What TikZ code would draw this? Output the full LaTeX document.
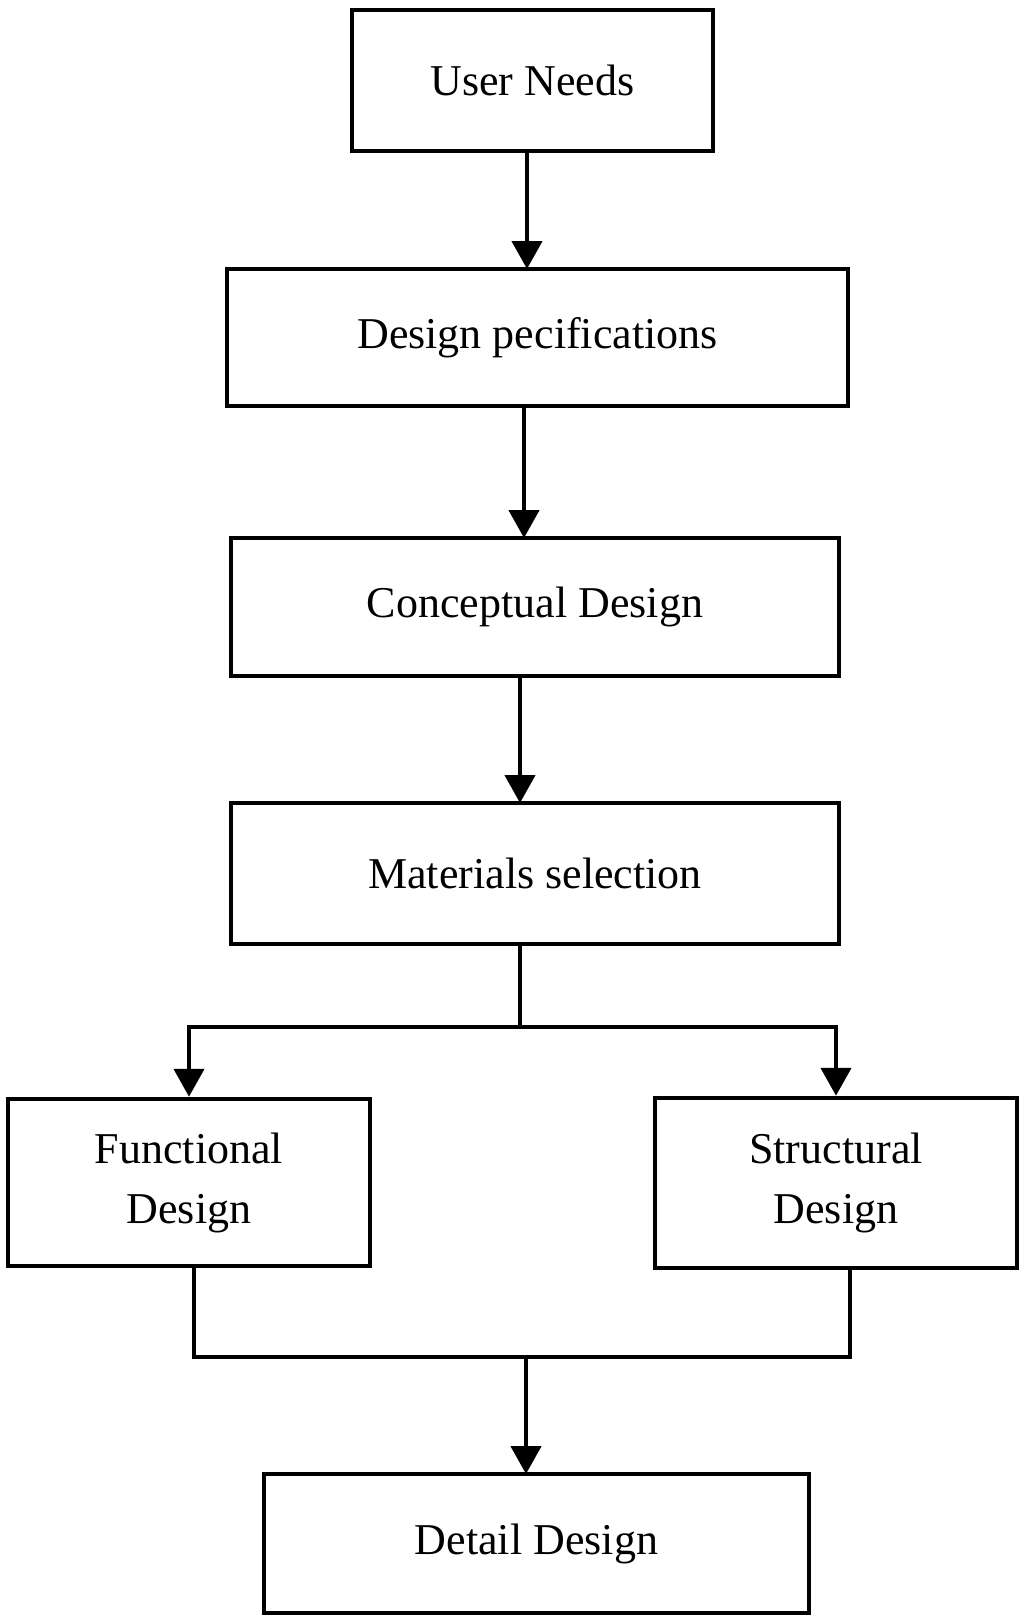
\documentclass[tikz,border=0pt]{standalone}
\usepackage{fontspec}
\setmainfont{Liberation Serif}
\usetikzlibrary{arrows.meta}
\begin{document}
\begin{tikzpicture}[x=1pt,y=-1pt,
  box/.style={draw,line width=4.5pt,inner sep=0pt,align=center,font=\fontsize{44}{60}\selectfont},
  ln/.style={line width=4.5pt},
  arr/.style={ln,-{Triangle[length=28pt,width=30pt]}}]
\useasboundingbox (0,0) rectangle (1024,1617);
\node[box,minimum width=361pt,minimum height=141pt] (a) at (532.5,80.5) {User Needs};
\node[box,minimum width=621pt,minimum height=137pt] (b) at (537.5,337.5) {Design pecifications};
\node[box,minimum width=608pt,minimum height=138pt] (c) at (535,607) {Conceptual Design};
\node[box,minimum width=608pt,minimum height=141pt] (d) at (535,873.5) {Materials selection};
\node[box,minimum width=362pt,minimum height=167pt] (f) at (189,1182.5) {Functional\\Design};
\node[box,minimum width=362pt,minimum height=170pt] (s) at (836,1183) {Structural\\Design};
\node[box,minimum width=545pt,minimum height=139pt] (e) at (536.5,1543.5) {Detail Design};
\coordinate (j1) at (520,1027);
\coordinate (j2) at (526,1357);
\draw[arr] (527,151) -- (527,269);
\draw[arr] (524,406) -- (524,538);
\draw[arr] (520,676) -- (520,803);
\draw[ln] (520,944) -- (j1);
\draw[arr] (j1) -| (f.north);
\draw[arr] (j1) -| (s.north);
\draw[ln] (194,1266) |- (j2);
\draw[ln] (850,1268) |- (j2);
\draw[arr] (j2) -- (526,1474);
\end{tikzpicture}
\end{document}
